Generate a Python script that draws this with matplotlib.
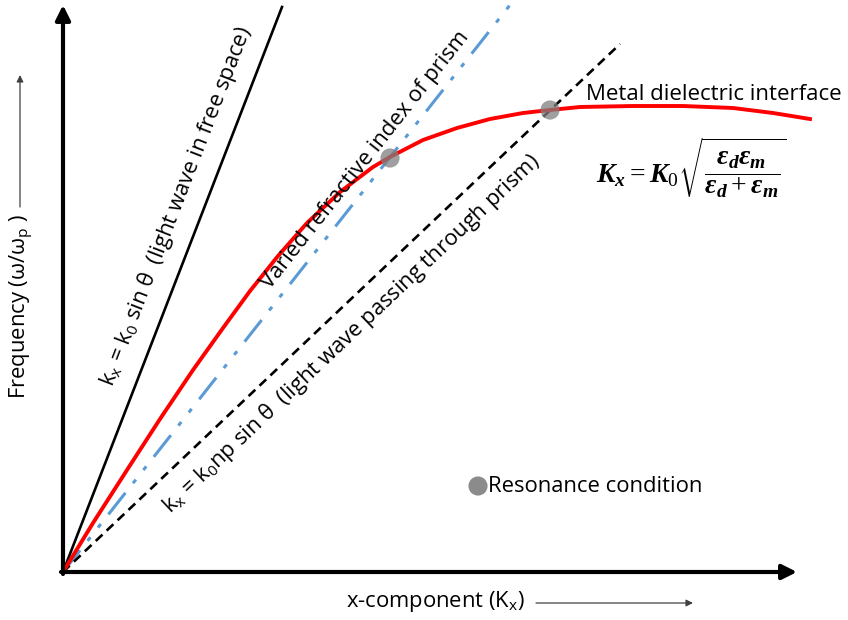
import numpy as np
import matplotlib
matplotlib.use('Agg')
import matplotlib.pyplot as plt

plt.rcParams['font.family'] = ['Open Sans', 'DejaVu Sans']
plt.rcParams['mathtext.fontset'] = 'custom'
plt.rcParams['mathtext.it'] = 'Liberation Serif:italic:bold'
plt.rcParams['mathtext.rm'] = 'Liberation Serif'
plt.rcParams['mathtext.bf'] = 'Liberation Serif:bold'

# dispersion curve of the surface plasmon (metal / dielectric interface)
spp_k = [0, 30, 64, 97, 130, 160, 187, 215, 244, 277, 310, 327, 360, 394,
         427, 460, 487, 517, 570, 620, 670, 710, 747]
spp_w = [0, 49, 102, 153, 202, 244, 281, 316, 349, 380, 405, 415, 432, 444,
         453, 459, 462, 465, 466, 466, 464, 459, 453]

# light lines, drawn from the origin to these end points
free_space_end = [219, 565]
varied_end = [447, 567]
prism_end = [557, 528]

# resonance points (where prism light lines meet the curve)
res_k = [327, 487]
res_w = [414, 462]

axis_end = [734, 567]

fig = plt.figure(figsize=(8.48, 6.2), dpi=100)
ax = fig.add_axes([0, 0, 1, 1])
ax.set_xlim(-63, 785)
ax.set_ylim(-48, 572)
ax.axis('off')

# axes with arrows
ax.annotate('', xy=(axis_end[0], 0), xytext=(-2, 0),
            arrowprops=dict(arrowstyle='-|>', lw=3, color='black', mutation_scale=22, shrinkA=0, shrinkB=0))
ax.annotate('', xy=(0, axis_end[1]), xytext=(0, -2),
            arrowprops=dict(arrowstyle='-|>', lw=3, color='black', mutation_scale=22, shrinkA=0, shrinkB=0))

ax.plot([0, free_space_end[0]], [0, free_space_end[1]], color='black', lw=1.9)
ax.plot([0, varied_end[0]], [0, varied_end[1]], color='#5B9BD5', lw=2.2, dashes=[9, 4, 1.5, 4, 1.5, 4])
ax.plot([0, prism_end[0]], [0, prism_end[1]], color='black', lw=1.9, dashes=[3.5, 2.2])
ax.plot(spp_k, spp_w, color='#FF0000', lw=2.8, solid_joinstyle='round')

ax.scatter(res_k, res_w, s=190, color='#7F7F7F', alpha=0.75, zorder=5, edgecolors='none')

def ang(end):
    return np.degrees(np.arctan2(end[1], end[0]))

fs = 15.8
ax.text(113, 366, r'k$_\mathregular{x}$ = k$_\mathregular{0}$ sin θ  (light wave in free space)', fontsize=fs,
        rotation=ang(free_space_end), ha='center', va='center', rotation_mode='anchor')
ax.text(302, 412, 'Varied refractive index of prism', fontsize=fs,
        rotation=ang(varied_end), ha='center', va='center', rotation_mode='anchor')
ax.text(288, 238, r'k$_\mathregular{x}$ = k$_\mathregular{0}$np sin θ  (light wave passing through prism)', fontsize=fs,
        rotation=ang(prism_end), ha='center', va='center', rotation_mode='anchor')

ax.text(523, 477, 'Metal dielectric interface', fontsize=16, va='center', ha='left')
ax.text(533, 404, r'$K_x = K_{\rm 0}\sqrt{\dfrac{\epsilon_d\epsilon_m}{\epsilon_d+\epsilon_m}}$',
        fontsize=20, va='center', ha='left')

# legend for resonance marker
ax.scatter([415], [86], s=190, color='#7F7F7F', alpha=0.9, edgecolors='none')
ax.text(425, 86, 'Resonance condition', fontsize=fs, va='center', ha='left')

# axis labels with small arrows
ax.text(-42, 265, r'Frequency (ω/ω$_\mathregular{p}$ )', fontsize=fs, rotation=90, ha='center', va='center')
ax.annotate('', xy=(-43, 497), xytext=(-43, 365),
            arrowprops=dict(arrowstyle='-|>', lw=0.9, color='#404040', mutation_scale=10, shrinkA=0, shrinkB=0))
ax.text(372, -30, r'x-component (K$_\mathregular{x}$)', fontsize=fs, ha='center', va='center')
ax.annotate('', xy=(630, -31), xytext=(473, -31),
            arrowprops=dict(arrowstyle='-|>', lw=0.9, color='#404040', mutation_scale=10, shrinkA=0, shrinkB=0))

plt.savefig('out.png', dpi=100)
